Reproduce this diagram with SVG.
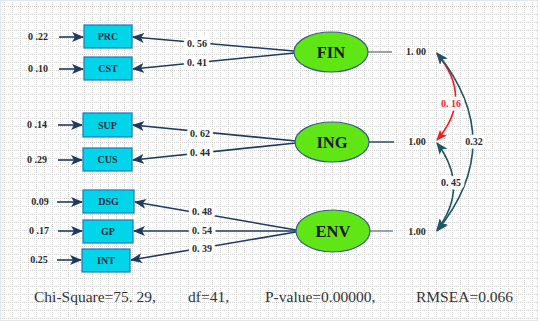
<svg xmlns="http://www.w3.org/2000/svg" width="538" height="322" viewBox="0 0 538 322">
<defs>
<pattern id="grid" x="0" y="0" width="8" height="8" patternUnits="userSpaceOnUse">
<line x1="4.5" y1="0" x2="4.5" y2="8" stroke="#cfcfcf" stroke-width="1" stroke-dasharray="1,1"/>
<line x1="0" y1="6.5" x2="8" y2="6.5" stroke="#cfcfcf" stroke-width="1" stroke-dasharray="1,1"/>
</pattern>
<marker id="ah" viewBox="0 0 12 10" refX="11" refY="5" markerWidth="12" markerHeight="10" markerUnits="userSpaceOnUse" orient="auto">
<path d="M0,0 L12,5 L0,10 L3,5 z" fill="#1d3a60"/>
</marker>
<marker id="ahT" viewBox="0 0 12 10" refX="11" refY="5" markerWidth="12" markerHeight="10" markerUnits="userSpaceOnUse" orient="auto-start-reverse">
<path d="M0,0 L12,5 L0,10 L3,5 z" fill="#1e5567"/>
</marker>
<marker id="ahR" viewBox="0 0 12 10" refX="11" refY="5" markerWidth="11" markerHeight="9" markerUnits="userSpaceOnUse" orient="auto-start-reverse">
<path d="M0,0 L12,5 L0,10 L3,5 z" fill="#ff1a1a"/>
</marker>
</defs>
<style>
.box{fill:#00d5ea;stroke:#1f78b8;stroke-width:1.2}
.bt{font-family:"Liberation Serif",serif;font-weight:bold;font-size:10px;fill:#1a2a3a;text-anchor:middle}
.ell{fill:#5fe614;stroke:#3a5a8a;stroke-width:1.2}
.et{font-family:"Liberation Serif",serif;font-weight:bold;font-size:16.5px;fill:#1a1a1a;text-anchor:middle}
.err{font-family:"Liberation Serif",serif;font-weight:bold;font-size:10px;fill:#2a2a2a;text-anchor:middle}
.lab{font-family:"Liberation Serif",serif;font-weight:bold;font-size:10px;fill:#2a2a2a;text-anchor:middle;paint-order:stroke fill;stroke:#ffffff;stroke-width:7px;stroke-linejoin:round}
.ln{stroke:#1d3a60;stroke-width:1.6;fill:none}
.tl{stroke:#1e5567;stroke-width:1.6;fill:none}
.rl{stroke:#ff1a1a;stroke-width:1.6;fill:none}
.foot{font-family:"Liberation Serif",serif;font-size:15.5px;fill:#333333}
</style>
<rect x="0" y="0" width="538" height="322" fill="#ffffff"/>
<rect x="0" y="0" width="538" height="322" fill="url(#grid)"/>
<rect x="0.5" y="0.5" width="537" height="320" fill="none" stroke="#dfe7f1" stroke-width="1"/>

<g id="connectors">
<line class="ln" x1="59" y1="37" x2="83" y2="37" marker-end="url(#ah)"/>
<line class="ln" x1="59" y1="69" x2="83" y2="69" marker-end="url(#ah)"/>
<line class="ln" x1="58" y1="125" x2="82" y2="125" marker-end="url(#ah)"/>
<line class="ln" x1="58" y1="160" x2="82" y2="160" marker-end="url(#ah)"/>
<line class="ln" x1="57" y1="202" x2="82" y2="202" marker-end="url(#ah)"/>
<line class="ln" x1="58" y1="231" x2="82" y2="231" marker-end="url(#ah)"/>
<line class="ln" x1="57" y1="260" x2="81" y2="260" marker-end="url(#ah)"/>

<line class="ln" x1="294" y1="51" x2="133" y2="37" marker-end="url(#ah)"/>
<line class="ln" x1="294" y1="53" x2="133" y2="69" marker-end="url(#ah)"/>
<line class="ln" x1="296" y1="141" x2="133" y2="125" marker-end="url(#ah)"/>
<line class="ln" x1="296" y1="143" x2="133" y2="160" marker-end="url(#ah)"/>
<line class="ln" x1="296" y1="230" x2="135" y2="202" marker-end="url(#ah)"/>
<line class="ln" x1="296" y1="231" x2="134" y2="231" marker-end="url(#ah)"/>
<line class="ln" x1="296" y1="232" x2="131" y2="260" marker-end="url(#ah)"/>

<line x1="368" y1="52" x2="392" y2="52" stroke="#7f8d9c" stroke-width="1.6"/>
<line x1="369" y1="142" x2="394" y2="142" stroke="#1d3a60" stroke-width="1.4"/>
<line x1="369" y1="231" x2="393" y2="231" stroke="#7f8d9c" stroke-width="1.6"/>

<path class="rl" d="M437,54 Q474,97 437,140" marker-start="url(#ahR)" marker-end="url(#ahR)"/>
<path class="tl" d="M437,53 Q509,142 437,231" marker-start="url(#ahT)" marker-end="url(#ahT)"/>
<path class="tl" d="M437,143 Q470,187 437,230" marker-start="url(#ahT)" marker-end="url(#ahT)"/>

<text class="lab" x="197" y="47">0. 56</text>
<text class="lab" x="197" y="66">0. 41</text>
<text class="lab" x="200" y="137">0. 62</text>
<text class="lab" x="200" y="156">0. 44</text>
<text class="lab" x="202" y="215">0. 48</text>
<text class="lab" x="202" y="234">0. 54</text>
<text class="lab" x="202" y="252">0. 39</text>
<text class="lab" x="451" y="107" style="fill:#ff1a1a">0. 16</text>
<text class="lab" x="474" y="145">0.32</text>
<text class="lab" x="451" y="186">0. 45</text>
</g>

<g id="e1"><text class="err" x="38" y="40">0 .22</text></g>
<g id="e2"><text class="err" x="38" y="72">0 .10</text></g>
<g id="e3"><text class="err" x="37" y="128">0 .14</text></g>
<g id="e4"><text class="err" x="37" y="163">0 .29</text></g>
<g id="e5"><text class="err" x="40" y="205">0.09</text></g>
<g id="e6"><text class="err" x="39" y="234">0 .17</text></g>
<g id="e7"><text class="err" x="39" y="263">0.25</text></g>

<g id="PRC"><rect class="box" x="84" y="25" width="48" height="23"/><text class="bt" x="108" y="40">PRC</text></g>
<g id="CST"><rect class="box" x="84" y="57" width="48" height="23"/><text class="bt" x="108" y="72">CST</text></g>
<g id="SUP"><rect class="box" x="83" y="113" width="49" height="24"/><text class="bt" x="107.5" y="128.5">SUP</text></g>
<g id="CUS"><rect class="box" x="83" y="148" width="49" height="23"/><text class="bt" x="107.5" y="163">CUS</text></g>
<g id="DSG"><rect class="box" x="83" y="190" width="51" height="23"/><text class="bt" x="108.5" y="205">DSG</text></g>
<g id="GP"><rect class="box" x="83" y="220" width="50" height="23"/><text class="bt" x="108" y="235">GP</text></g>
<g id="INT"><rect class="box" x="82" y="249" width="48" height="23"/><text class="bt" x="106" y="264">INT</text></g>

<g id="FIN"><ellipse class="ell" cx="331" cy="52" rx="37" ry="20"/><text class="et" x="331" y="58">FIN</text></g>
<g id="ING"><ellipse class="ell" cx="332" cy="142" rx="37" ry="20"/><text class="et" x="332" y="148">ING</text></g>
<g id="ENV"><ellipse class="ell" cx="333" cy="231" rx="37" ry="21"/><text class="et" x="333" y="237">ENV</text></g>

<g id="v1"><text class="err" x="416" y="55">1. 00</text></g>
<g id="v2"><text class="err" x="417" y="145">1.00</text></g>
<g id="v3"><text class="err" x="417" y="235">1.00</text></g>

<g id="footer">
<text class="foot" x="34" y="302">Chi-Square=75. 29,</text>
<text class="foot" x="188" y="302">df=41,</text>
<text class="foot" x="265" y="302">P-value=0.00000,</text>
<text class="foot" x="416" y="302">RMSEA=0.066</text>
</g>
</svg>
